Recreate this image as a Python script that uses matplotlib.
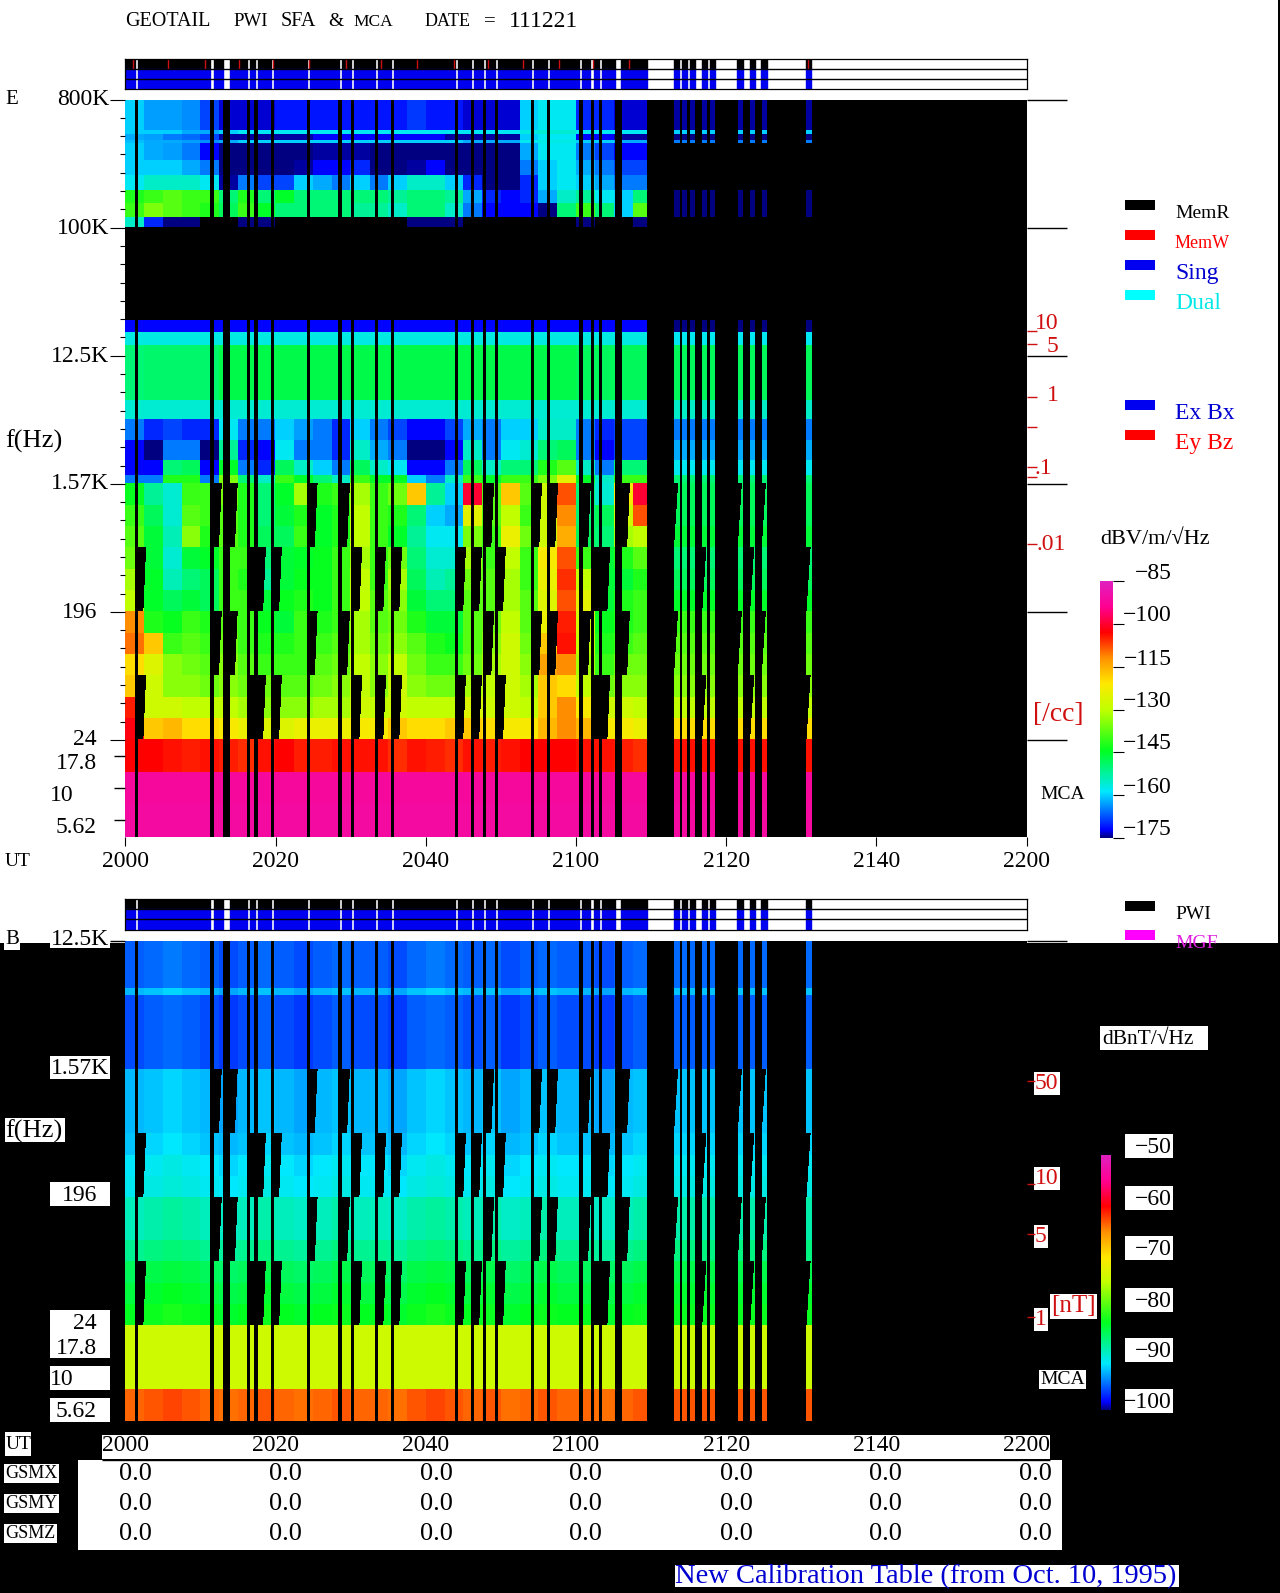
"""
GEOTAIL PWI SFA & MCA daily plot, 2011-12-21
Band levels are read off the picture per 2.5 minute block
"""

import numpy as np
import matplotlib
matplotlib.use('Agg')  # Non-interactive backend
import matplotlib.pyplot as plt
from matplotlib.cm import ScalarMappable
from matplotlib.colors import LinearSegmentedColormap, Normalize
from matplotlib.patches import Rectangle

W, H = 1280, 1593
FONT = ['Liberation Serif', 'DejaVu Sans']
NO_DATA = -200

# Minutes after 2000 UT with data
SEGMENT_START = [0, 1.68, 11.76, 13.89, 16.58, 17.65, 19.78, 24.54, 28.85, 30.42, 33.61,
                 35.74, 44.26, 46.39, 48.01, 49.58, 54.4, 56.53, 60.84, 62.35, 63.42, 66.05,
                 73.0, 74.08, 75.15, 76.77, 77.84, 81.5, 83.15, 84.7, 90.6]
SEGMENT_END = [1.23, 11.32, 12.94, 16.19, 17.2, 19.38, 24.15, 28.4, 30.03, 33.22, 35.35,
               43.87, 46.0, 47.56, 49.19, 54.0, 56.13, 60.39, 61.9, 63.03, 65.15, 69.41,
               73.74, 74.8, 75.8, 77.44, 78.5, 82.2, 83.8, 85.4, 91.27]
MEMW_TIMES = [1.0, 5.7, 10.6, 15.1, 19.7, 24.4, 29.4, 34.0, 38.8, 43.7, 48.3, 52.9,
              57.7, 62.3, 67.1, 90.9]

# Sweeps blanked after a gap: (first minute blanked, end of gap)
SWEEP_A_BLANK = [(11.32, 11.76), (12.94, 13.89), (24.15, 24.54), (28.4, 28.85), (47.56, 48.01),
                 (54.0, 54.4), (56.13, 56.53), (60.39, 60.84), (65.15, 66.05)]
SWEEP_B_BLANK = [(1.23, 1.68), (16.19, 17.65), (19.38, 19.78), (30.03, 30.42), (33.22, 33.61),
                 (35.35, 35.74), (43.87, 44.26), (46.0, 46.39), (49.19, 49.58), (61.9, 63.42)]
SLIVER_A = [73.0, 81.5, 84.7]
SLIVER_B = [76.77, 83.15, 90.6]

# Rows in steps of the frequency axis: 0=800K 1=100K 2=12.5K 3=1.57K 4=196 5=24
E_ROW_EDGES = [0, .24, .27, .315, .34, .47, .59, .71, .81, .92, 1.0, 1.72, 1.82, 1.92, 2.35,
               2.5, 2.66, 2.82, 2.93, 3.0,
               3.17, 3.33, 3.5, 3.67, 3.83, 4.0, 4.17, 4.33, 4.5, 4.67, 4.83, 5.0,
               5.257, 5.5, 5.8]

# dBV/m/rtHz, last column is for the short passes after 2110
E_LEVELS = [
    [-160, -163, -163, -164, -168, -173, -173, -173, -171, -171, -171, -171, -171, -171, -171, -169, -171, -171, -173, -173, -173, -160, -158, -158, -170, -170, -173, -173, -174],
    [-160, -160, -160, -162, -162, -160, -158, -158, -158, -158, -158, -158, -158, -158, -158, -158, -158, -158, -158, -158, -158, -157, -156, -156, -158, -158, -158, -158, -160],
    [-162, -163, -165, -166, -168, -174, -174, -174, -174, -174, -172, -172, -172, -172, -172, -172, -172, -174, -174, -174, -174, -160, -158, -158, -172, -172, -174, -174, -175],
    [-161, -162, -162, -163, -164, -162, -160, -160, -160, -160, -160, -160, -160, -160, -160, -160, -160, -160, -162, -162, -162, -158, -157, -157, -160, -160, -162, -162, -165],
    [-160, -162, -163, -165, -172, -175, -175, -175, -175, -175, -174, -174, -174, -175, -175, -175, -175, -175, -175, -175, -175, -162, -158, -158, -165, -168, -172, -172, -200],
    [-160, -160, -160, -162, -165, -175, -175, -175, -175, -174, -172, -172, -170, -175, -175, -174, -172, -175, -175, -175, -175, -165, -160, -158, -162, -165, -168, -168, -200],
    [-158, -155, -155, -155, -158, -174, -165, -168, -168, -160, -162, -165, -160, -165, -160, -155, -155, -160, -170, -175, -175, -170, -160, -158, -160, -162, -165, -165, -200],
    [-142, -140, -138, -140, -140, -150, -142, -150, -145, -150, -150, -150, -150, -150, -152, -150, -150, -152, -162, -170, -172, -170, -162, -155, -152, -158, -160, -150, -175],
    [-140, -135, -138, -140, -142, -148, -140, -145, -150, -150, -150, -150, -152, -152, -155, -150, -150, -155, -165, -172, -172, -172, -175, -150, -140, -150, -160, -138, -175],
    [-155, -170, -175, -175, -200, -200, -175, -175, -200, -200, -200, -200, -185, -185, -185, -175, -175, -175, -185, -200, -200, -200, -200, -200, -175, -185, -200, -175, -200],
    [-200] * 29,
    [-172] * 28 + [-175],
    [-157] * 28 + [-158],
    [-150, -149, -149, -149, -149, -147, -147, -147, -147, -147, -147, -147, -147, -147, -147, -147, -147, -147, -147, -147, -147, -147, -147, -147, -148, -148, -148, -148, -148],
    [-156] * 28 + [-155],
    [-165, -170, -168, -170, -170, -158, -165, -165, -160, -163, -165, -170, -160, -165, -168, -172, -172, -168, -162, -165, -160, -160, -155, -155, -165, -170, -168, -168, -165],
    [-172, -175, -165, -165, -175, -152, -170, -172, -158, -165, -165, -170, -155, -162, -165, -175, -175, -172, -155, -165, -158, -156, -150, -148, -165, -172, -168, -168, -162],
    [-172, -172, -150, -148, -172, -145, -165, -170, -148, -155, -160, -165, -148, -155, -158, -172, -172, -165, -148, -155, -150, -150, -142, -138, -155, -165, -150, -150, -158],
    [-165, -165, -142, -142, -165, -135, -150, -155, -140, -145, -150, -155, -140, -145, -145, -160, -165, -155, -140, -145, -140, -140, -135, -125, -145, -155, -140, -140, -150],
    [-144, -152, -156, -140, -140, -135, -142, -150, -145, -132, -142, -140, -132, -140, -136, -118, -152, -160, -100, -138, -118, -138, -128, -108, -150, -156, -122, -100, -148],
    [-140, -148, -156, -138, -140, -138, -142, -150, -146, -142, -145, -142, -130, -140, -142, -150, -160, -162, -125, -138, -130, -140, -128, -112, -150, -148, -128, -108, -148],
    [-138, -146, -154, -134, -142, -138, -142, -148, -148, -140, -145, -142, -130, -140, -145, -152, -158, -158, -135, -140, -124, -136, -128, -115, -148, -150, -132, -130, -146],
    [-136, -146, -156, -146, -145, -140, -140, -150, -146, -145, -144, -140, -132, -140, -136, -150, -156, -156, -132, -140, -130, -140, -122, -108, -140, -146, -142, -138, -150],
    [-132, -145, -154, -150, -148, -140, -142, -152, -146, -144, -144, -140, -130, -140, -132, -148, -154, -152, -136, -138, -132, -140, -124, -106, -130, -146, -146, -142, -148],
    [-130, -145, -148, -146, -148, -140, -140, -146, -144, -142, -144, -140, -130, -138, -134, -146, -150, -150, -138, -138, -132, -138, -126, -108, -125, -146, -142, -140, -145],
    [-112, -142, -144, -140, -142, -138, -140, -144, -146, -140, -142, -140, -132, -138, -136, -142, -146, -146, -138, -136, -130, -138, -124, -105, -128, -144, -142, -140, -140],
    [-110, -118, -140, -138, -140, -136, -140, -142, -142, -140, -140, -138, -132, -136, -134, -138, -142, -144, -138, -134, -128, -136, -118, -104, -130, -142, -140, -138, -138],
    [-120, -126, -134, -136, -138, -134, -138, -140, -140, -140, -138, -136, -130, -134, -130, -136, -140, -140, -136, -132, -128, -134, -114, -112, -132, -140, -136, -136, -136],
    [-118, -128, -134, -134, -136, -134, -136, -136, -138, -138, -136, -134, -130, -134, -128, -134, -136, -136, -132, -130, -128, -132, -118, -120, -130, -136, -134, -134, -134],
    [-105, -128, -128, -130, -130, -130, -132, -134, -134, -134, -132, -132, -128, -130, -128, -130, -130, -130, -126, -128, -128, -130, -118, -112, -122, -128, -128, -130, -130],
    [-102, -118, -116, -120, -120, -122, -124, -126, -126, -124, -124, -124, -122, -122, -118, -120, -120, -118, -118, -120, -122, -122, -116, -112, -116, -122, -122, -124, -120],
    [-103, -103, -104, -105, -104, -105, -106, -104, -103, -105, -105, -104, -104, -104, -106, -104, -105, -106, -104, -105, -104, -103, -103, -103, -104, -104, -105, -106, -104],
    [-92] * 29,
    [-91] * 29,
]

B_ROW_EDGES = [2.0, 2.36, 2.42, 3.0, 3.17, 3.33, 3.5, 3.67, 3.83, 4.0, 4.17, 4.33, 4.5, 4.67, 4.83,
               5.0, 5.5, 5.8]
# dBnT/rtHz per row, plus a small shift per time block (not on the flat MCA row)
B_ROW_LEVELS = [-95.5, -92.5, -96, -92.5, -92.5, -92.5, -92, -91, -90.5, -88.5, -88.5, -87, -85, -84, -83,
                -74, -63.5]
B_FLAT_ROW = 15
B_BLOCK_SHIFT = [0, 0.5, 1, 0.5, 0, -0.5, 0, 0.5, 0, -0.5, 0, 0.5, 0, 0, -0.5, 0.5, 1, 0.5, 0, 0.5, -0.5, 0, 0.5, 0, 0, -0.5, 0, 0.5, 0.5]

E_FREQ_STEPS = [0, 1, 2, 3, 4, 5]
E_MCA_STEPS = [5.125, 5.375, 5.625]
UT_TICKS = [0, 20, 40, 60, 80, 100, 120]
UT_LABELS = ['2000', '2020', '2040', '2100', '2120', '2140', '2200']
E_DENSITY_STEPS = [1.81, 1.91, 2.32, 2.56, 2.87, 2.95, 3.47]
E_CBAR_TICKS = [-85, -100, -115, -130, -145, -160, -175]
B_CBAR_TICKS = [-50, -60, -70, -80, -90, -100]
B_FIELD_STEPS = [3.09, 3.9, 4.29, 4.94]
GSM_NAMES = ['GSMX', 'GSMY', 'GSMZ']
GSM_VALUES = ['0.0'] * 7

PWI_CMAP = LinearSegmentedColormap.from_list('pwi', [
    (0, '#000080'), (.03, '#0000ff'), (.18, '#00e8ff'), (.34, '#00ff20'), (.5, '#c0ff00'),
    (.6, '#ffe800'), (.7, '#ff9000'), (.8, '#ff0000'), (.9, '#ff0090'), (1, '#e020c0')])
PWI_CMAP.set_under('black')

DIGIT_SIZE = 17
CAPS_SIZE = 14


def px_axes(fig, left, top, right, bottom):
    """Axes placed by picture pixels"""
    return fig.add_axes([left / W, 1 - bottom / H, (right - left) / W, (bottom - top) / H])


def spectrogram(steps, times, row_edges, table):
    """Level image with gaps and blanked sweeps set to NO_DATA"""
    row_idx = np.searchsorted(row_edges, steps, side='right') - 1
    block_idx = np.minimum((times // 2.5).astype(int), 28)
    levels = np.array(table, dtype=float)[row_idx][:, block_idx]

    on = np.zeros(times.shape, dtype=bool)
    for start, end in zip(SEGMENT_START, SEGMENT_END):
        on |= (times >= start) & (times < end)
    levels[:, ~on] = NO_DATA

    for i, step in enumerate(steps):
        if not 3 <= step < 5:
            continue
        sweep_a = int((step - 3) * 2) % 2 == 0
        frac = ((step - 3) * 2) % 1
        for start, gap_end in (SWEEP_A_BLANK if sweep_a else SWEEP_B_BLANK):
            stop = gap_end + 1.07 - 0.37 * frac
            levels[i, (times >= start) & (times < stop)] = NO_DATA
        for start in (SLIVER_A if sweep_a else SLIVER_B):
            stop = start + 0.55 * (1 - frac)
            levels[i, (times >= start) & (times < stop)] = NO_DATA
    return levels


def draw_panel(ax, table, row_edges, top_step, bottom_step, vmin, vmax):
    times = np.arange(0, 120, 1 / 15)
    steps = np.arange(top_step, bottom_step, 1 / 128)
    levels = spectrogram(steps, times, row_edges, table)
    ax.imshow(levels, cmap=PWI_CMAP, vmin=vmin, vmax=vmax, aspect='auto', interpolation='nearest',
              extent=(0, 120, bottom_step, top_step))
    ax.set_xlim(0, 120)
    ax.set_ylim(bottom_step, top_step)
    ax.set_yticks([])
    for spine in ax.spines.values():
        spine.set_visible(False)
    ax.set_xticks(UT_TICKS)
    ax.set_xticklabels(UT_LABELS, family=FONT, fontsize=DIGIT_SIZE)
    ax.tick_params(axis='x', length=6.5, width=0.8, pad=3.5)


def draw_status(ax, show_memw):
    bars = list(zip(SEGMENT_START, np.subtract(SEGMENT_END, SEGMENT_START)))
    ax.broken_barh(bars, (0, 1), color='black')
    ax.broken_barh(bars, (1, 2), color='#0000f0')
    if show_memw:
        ax.vlines(MEMW_TIMES, 0, 1, color='#d01010', lw=1)
    ax.hlines([1, 2], 0, 120, color='black', lw=1)
    ax.set_xlim(0, 120)
    ax.set_ylim(3, 0)
    ax.set_xticks([])
    ax.set_yticks([])
    for spine in ax.spines.values():
        spine.set_linewidth(0.9)


def draw_colorbar(fig, cax, vmin, vmax, ticks):
    fig.colorbar(ScalarMappable(Normalize(vmin, vmax), PWI_CMAP), cax=cax)
    cax.set_ylim(vmin, vmax)
    cax.yaxis.set_ticks(ticks)
    cax.set_yticklabels([])
    cax.tick_params(length=8, width=0.8, right=True)
    cax.minorticks_off()
    for spine in cax.spines.values():
        spine.set_visible(False)


def main():
    fig = plt.figure(figsize=(W / 100, H / 100), dpi=100, facecolor='white')
    bg = fig.add_axes([0, 0, 1, 1])
    bg.set_xlim(0, W)
    bg.set_ylim(H, 0)
    bg.axis('off')

    def box(x0, y0, x1, y1, color='white'):
        bg.add_patch(Rectangle((x0, y0), x1 - x0, y1 - y0, fc=color, ec='none'))

    def label(x, y, text, color='black', ha='left', size=DIGIT_SIZE, backed=False):
        bg.text(x, y + 1.5, text, color=color, ha=ha, va='center', family=FONT, fontsize=size,
                bbox=dict(fc='white', ec='none', pad=1) if backed else None)

    # Page background
    box(0, 943, W, H, 'black')
    box(1278, 0, W, 943, 'black')

    for text_box in [(50, 1310, 110, 1358), (50, 1366, 110, 1390), (50, 1398, 110, 1422),
                     (50, 1056, 110, 1079), (50, 1182, 110, 1206), (102, 1435, 1050, 1459),
                     (78, 1460, 1062, 1550), (1100, 1026, 1208, 1050), (675, 1565, 1179, 1587),
                     (5, 1118, 65, 1142), (5, 1432, 31, 1456), (50, 928, 110, 948)]:
        box(*text_box)
    bg.hlines(1459.5, 102, 1050, color='black', lw=1)

    # Title, word by word so the gaps land where they should
    for x, word, size in [(125, 'GEOTAIL', 14.5), (233, 'PWI', 13.5), (281, 'SFA', 14.5), (328, '&', 14),
                          (353, 'MCA', 12.5), (425, 'DATE', 13), (484, '=', 15), (509, '111221', DIGIT_SIZE)]:
        label(x, 20, word, size=size)

    # Panel E
    ax_e = px_axes(fig, 125.4, 99.6, 1026.6, 837)
    draw_panel(ax_e, E_LEVELS, E_ROW_EDGES, 0, 5.758, -175, -85)
    ax_e.set_yticks(E_FREQ_STEPS)
    ax_e.set_yticks(np.arange(0, 5, 1 / 7), minor=True)
    ax_e.set_yticklabels([])
    ax_e.tick_params(axis='y', which='major', length=10.8, width=0.8)
    ax_e.tick_params(axis='y', which='minor', length=3.6, width=0.8)
    trans_e = ax_e.get_yaxis_transform()
    ax_e.hlines(E_FREQ_STEPS, 1, 1 + 40 / 901, transform=trans_e, color='black', lw=1, clip_on=False)
    ax_e.hlines(E_MCA_STEPS, -11 / 901, 0, transform=trans_e, color='black', lw=1, clip_on=False)
    ax_e.hlines(E_DENSITY_STEPS, 1, 1 + 10 / 901, transform=trans_e, color='#d01010', lw=1, clip_on=False)

    label(5, 98, 'E', size=15)
    for y, text, right in [(98, '800K', 109), (227, '100K', 109), (355, '12.5K', 109), (482, '1.57K', 109),
                           (611, '196', 97), (738, '24', 97), (762, '17.8', 97), (826, '5.62', 97)]:
        label(right, y, text, ha='right')
    label(50, 794, '10')
    label(5, 440, 'f(Hz)', size=19)
    label(5, 860, 'UT', size=14)
    for x, y, text, size in [(1035, 322, '10', DIGIT_SIZE), (1047, 345, '5', DIGIT_SIZE), (1047, 394, '1', DIGIT_SIZE),
                             (1035, 467, '.1', DIGIT_SIZE), (1037, 543, '.01', DIGIT_SIZE), (1033, 713, '[/cc]', 20)]:
        label(x, y, text, color='#d01010', size=size)
    label(1040, 793, 'MCA', size=CAPS_SIZE)

    # Legend
    for y, color, text, text_color, size in [(200, 'black', 'MemR', 'black', 14),
                                             (230, '#ff0000', 'MemW', '#ff0000', 13),
                                             (260, '#0000f0', 'Sing', '#0000d0', DIGIT_SIZE),
                                             (290, '#00ffff', 'Dual', '#00e8e8', DIGIT_SIZE),
                                             (400, '#0000f0', 'Ex Bx', '#0000d0', DIGIT_SIZE),
                                             (430, '#ff0000', 'Ey Bz', '#ff0000', DIGIT_SIZE),
                                             (901, 'black', 'PWI', 'black', CAPS_SIZE),
                                             (930, '#ff00ff', 'MGF', '#e020e0', CAPS_SIZE)]:
        box(1125, y, 1155, y + 10, color)
        label(1175, y + 12, text, color=text_color, size=size)

    # Colour scale E
    cax_e = px_axes(fig, 1100, 581, 1113, 838)
    draw_colorbar(fig, cax_e, -175, -85, E_CBAR_TICKS)
    label(1100, 538, 'dBV/m/\u221aHz', size=16)
    for value, y in zip(E_CBAR_TICKS, [572, 614, 658, 700, 742, 786, 828]):
        label(1172, y, f'\u2212{abs(value)}', ha='right')

    # Status strips
    draw_status(px_axes(fig, 125.4, 59.3, 1026.6, 89.3), True)
    draw_status(px_axes(fig, 125.4, 899, 1026.6, 929.5), False)

    # Panel B
    ax_b = px_axes(fig, 125.4, 941, 1026.6, 1421)
    b_table = [[level + (0 if i == B_FLAT_ROW else shift) for shift in B_BLOCK_SHIFT]
               for i, level in enumerate(B_ROW_LEVELS)]
    draw_panel(ax_b, b_table, B_ROW_EDGES, 2, 5.75, -100, -50)
    ax_b.tick_params(axis='x', length=0, pad=10)
    trans_b = ax_b.get_yaxis_transform()
    ax_b.hlines(2, -15 / 901, 0, transform=trans_b, color='black', lw=1, clip_on=False)
    ax_b.hlines(2, 1, 1 + 40 / 901, transform=trans_b, color='black', lw=1, clip_on=False)
    ax_b.hlines(B_FIELD_STEPS, 1, 1 + 8 / 901, transform=trans_b, color='#d01010', lw=1, clip_on=False)

    label(5, 938, 'B', size=15, backed=True)
    for y, text, right in [(938, '12.5K', 109), (1067, '1.57K', 109), (1194, '196', 97), (1322, '24', 97),
                           (1347, '17.8', 97), (1410, '5.62', 97)]:
        label(right, y, text, ha='right')
    label(50, 1378, '10')
    label(5, 1130, 'f(Hz)', size=19)
    label(6, 1443, 'UT', size=14)
    for x, y, text, size in [(1035, 1082, '50', DIGIT_SIZE), (1035, 1177, '10', DIGIT_SIZE), (1035, 1235, '5', DIGIT_SIZE),
                             (1035, 1318, '1', DIGIT_SIZE), (1051, 1305, '[nT]', 18)]:
        label(x, y, text, color='#d01010', size=size, backed=True)
    label(1040, 1378, 'MCA', size=CAPS_SIZE, backed=True)

    # Colour scale B
    cax_b = px_axes(fig, 1101, 1155, 1111, 1410)
    draw_colorbar(fig, cax_b, -100, -50, B_CBAR_TICKS)
    label(1102, 1038, 'dBnT/\u221aHz', size=15.5)
    for value, y in zip(B_CBAR_TICKS, [1146, 1198, 1248, 1300, 1350, 1401]):
        box(1125, y - 12, 1173, y + 12)
        label(1172, y, f'\u2212{abs(value)}', ha='right')

    # Position table
    for name, y in zip(GSM_NAMES, [1472, 1502, 1532]):
        label(5, y, name, size=13, backed=True)
        for x, value in zip([135, 285, 436, 585, 736, 885, 1035], GSM_VALUES):
            label(x, y, value, ha='center', size=19)

    label(675, 1575, 'New Calibration Table (from Oct. 10, 1995)', color='#0000d0', size=20.5)

    fig.savefig('out.png', dpi=100)
    plt.close(fig)


if __name__ == "__main__":
    main()
